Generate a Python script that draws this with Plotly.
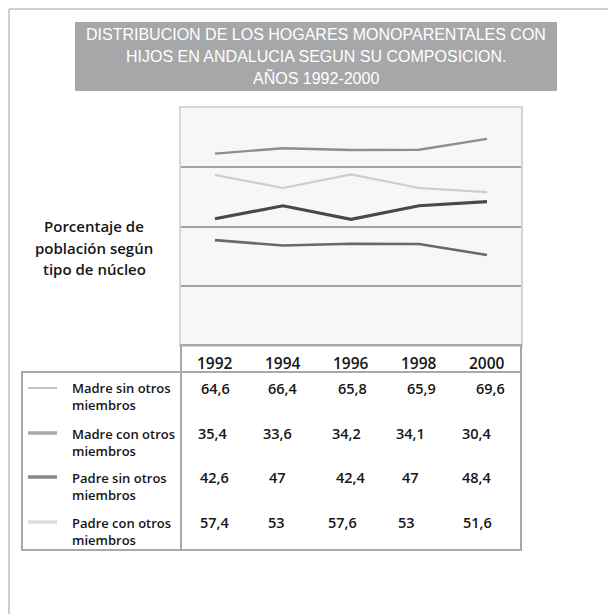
import plotly.graph_objects as go

W, H = 616, 614
OFF = 8  # page body margin

# ---------------- data ----------------
years = [1992, 1994, 1996, 1998, 2000]
madre_sin_otros = [64.6, 66.4, 65.8, 65.9, 69.6]
madre_con_otros = [35.4, 33.6, 34.2, 34.1, 30.4]
padre_sin_otros = [42.6, 47, 42.4, 47, 48.4]
padre_con_otros = [57.4, 53, 57.6, 53, 51.6]
series_labels = ["Madre sin otros<br>miembros", "Madre con otros<br>miembros",
                 "Padre sin otros<br>miembros", "Padre con otros<br>miembros"]
title_lines = ["DISTRIBUCION DE LOS HOGARES MONOPARENTALES CON",
               "HIJOS EN ANDALUCIA SEGUN SU COMPOSICION.",
               "AÑOS 1992-2000"]
ylabel_lines = ["Porcentaje de", "población según", "tipo de núcleo"]

series = [madre_sin_otros, madre_con_otros, padre_sin_otros, padre_con_otros]

# ---------------- styles ----------------
line_colors = ["#8e8e8e", "#686868", "#484848", "#cdcdcd"]
line_widths = [2.4, 2.6, 3.2, 2.2]
sample_colors = ["#9a9a9a", "#a8a8a8", "#888888", "#dcdcdc"]
sample_widths = [1.2, 3.5, 3.5, 3.5]
FONT = "Open Sans, Roboto, Liberation Sans, sans-serif"
TFONT = "Liberation Sans, Arial, sans-serif"
TXT = "#161616"
WEIGHT = 600


def px(x):
    return (x - OFF) / W


def py(y):
    return 1 - (y - OFF) / H


fig = go.Figure()
for vals, c, w in zip(series, line_colors, line_widths):
    fig.add_trace(go.Scatter(x=years, y=vals, mode="lines",
                             line=dict(color=c, width=w), hoverinfo="skip"))

shapes = []
ann = []

# outer frame
shapes.append(dict(type="line", xref="paper", yref="paper", x0=px(9), x1=px(9), y0=0, y1=py(9),
                   line=dict(color="#cfcfcf", width=2)))
shapes.append(dict(type="line", xref="paper", yref="paper", x0=px(9), x1=1, y0=py(9), y1=py(9),
                   line=dict(color="#cfcfcf", width=2)))

# title box
shapes.append(dict(type="rect", xref="paper", yref="paper", x0=px(75), x1=px(557), y0=py(91), y1=py(22),
                   fillcolor="#a6a7a9", line=dict(width=0), layer="below"))
for i, t in enumerate(title_lines):
    ann.append(dict(text=t, xref="paper", yref="paper", x=px(316), y=py(34.5 + i * 21.7),
                    xanchor="center", yanchor="middle", showarrow=False,
                    font=dict(family=TFONT, size=16, color="white")))

# y label
for i, t in enumerate(ylabel_lines):
    ann.append(dict(text=t, xref="paper", yref="paper", x=px(94), y=py(226 + i * 21.5),
                    xanchor="center", yanchor="middle", showarrow=False,
                    font=dict(family=FONT, size=15, color=TXT, weight=WEIGHT)))

# table frame
tc = "#a9a9a9"
shapes.append(dict(type="rect", xref="paper", yref="paper", x0=px(181), x1=px(521), y0=py(372), y1=py(345),
                   line=dict(color=tc, width=2)))
shapes.append(dict(type="rect", xref="paper", yref="paper", x0=px(22), x1=px(521), y0=py(550), y1=py(372),
                   line=dict(color=tc, width=2)))
shapes.append(dict(type="line", xref="paper", yref="paper", x0=px(181), x1=px(181), y0=py(550), y1=py(345),
                   line=dict(color=tc, width=2)))

# year header
for yr in years:
    ann.append(dict(text=str(yr), xref="x", yref="paper", x=yr, y=py(363),
                    xanchor="center", yanchor="middle", showarrow=False,
                    font=dict(family=FONT, size=15.5, color=TXT, weight=WEIGHT)))

row_y = [388, 433, 477, 522]
col_shift = [[0, 0, 1, 2, 3], [-2, -6, -5, -9, -10], [-1, -6, 0, -9, -10], [0, -7, -9, -13, -10]]
for r, (vals, lab) in enumerate(zip(series, series_labels)):
    y0 = row_y[r]
    # legend sample
    shapes.append(dict(type="line", xref="paper", yref="paper", x0=px(28), x1=px(57), y0=py(y0), y1=py(y0),
                       line=dict(color=sample_colors[r], width=sample_widths[r])))
    ann.append(dict(text=lab, xref="paper", yref="paper", x=px(70), y=py(y0 + 9),
                    xanchor="left", yanchor="middle", align="left", showarrow=False,
                    font=dict(family=FONT, size=13, color=TXT, weight=WEIGHT)))
    for c, (yr, v) in enumerate(zip(years, vals)):
        ann.append(dict(text=f"{v:g}".replace(".", ","), xref="x", yref="paper", x=yr, y=py(y0),
                        xshift=col_shift[r][c], xanchor="center", yanchor="middle", showarrow=False,
                        font=dict(family=FONT, size=14.5, color=TXT, weight=WEIGHT)))

fig.update_layout(
    width=W, height=H, margin=dict(l=0, r=0, t=0, b=0),
    paper_bgcolor="white", plot_bgcolor="#f7f7f7", showlegend=False,
    shapes=shapes, annotations=ann,
    xaxis=dict(domain=[px(181), px(521)], range=[1991, 2001], showticklabels=False, showgrid=False,
               zeroline=False, showline=True, mirror=True, linecolor="#d6d6d6", linewidth=1.5, ticks=""),
    yaxis=dict(domain=[py(345), py(108)], range=[0, 80], tickmode="array", tickvals=[20, 40, 60],
               showticklabels=False, showgrid=True, gridcolor="#a3a3a3", gridwidth=1.5,
               zeroline=False, showline=True, mirror=True, linecolor="#d6d6d6", linewidth=1.5, ticks=""),
)

fig.write_html("out.html")
